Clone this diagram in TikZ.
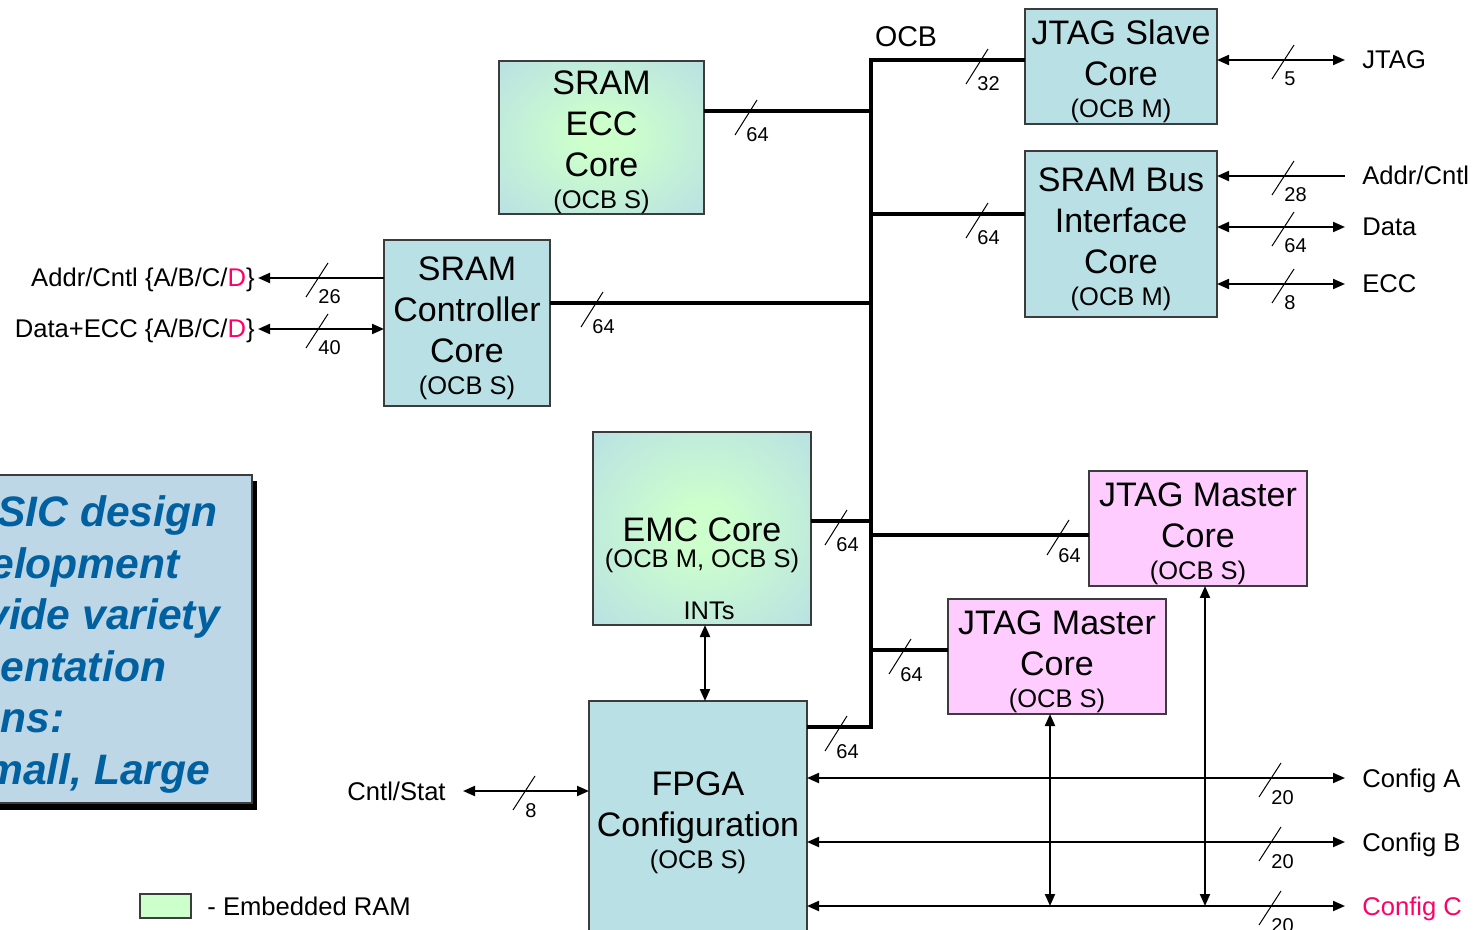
\documentclass[tikz,border=0pt]{standalone}
\usepackage{fontspec}
\setmainfont{Liberation Sans}
\usetikzlibrary{arrows.meta}

\definecolor{corecyan}{RGB}{185,224,228}
\definecolor{ramgreen}{RGB}{204,255,204}
\definecolor{jtagpink}{RGB}{255,204,255}
\definecolor{boxline}{RGB}{60,60,60}
\definecolor{notefill}{RGB}{190,215,230}
\definecolor{noteblue}{RGB}{0,96,160}
\definecolor{hotpink}{RGB}{255,0,102}

\pgfdeclareradialshading{ramglow}{\pgfpoint{0bp}{0bp}}{color(0bp)=(ramgreen); color(6bp)=(ramgreen); color(36bp)=(corecyan); color(50bp)=(corecyan)}

\newcommand{\bigf}{\fontsize{17}{20.5}\selectfont}
\newcommand{\smallf}{\fontsize{12.75}{15}\selectfont}
\newcommand{\lblf}{\fontsize{12.8}{15}\selectfont}
\newcommand{\wdf}{\fontsize{10}{12}\selectfont}
\newcommand{\topgap}[1][17pt]{\rule{0pt}{#1}}

% bus width mark on a thick bus line: crossing x, y, width
\newcommand{\bwmark}[3]{%
  \draw[line width=0.5pt] (#1-15,#2+24) -- (#1+7,#2-11);
  \node[font=\wdf, inner sep=0pt, anchor=base west] at (#1-4,#2+31) {#3};}
% same on a thin signal line
\newcommand{\swmark}[3]{%
  \draw[line width=0.5pt] (#1-12,#2+19) -- (#1+10,#2-15);
  \node[font=\wdf, inner sep=0pt, anchor=base west] at (#1,#2+26) {#3};}

\begin{document}
\begin{tikzpicture}[x=0.5pt,y=-0.5pt,
  core/.style={draw=boxline, line width=0.75pt, fill=corecyan, inner sep=0pt, outer sep=0pt, align=center, font=\bigf},
  ramcore/.style={core, shading=ramglow},
  jtagm/.style={core, fill=jtagpink},
  bus/.style={line width=2pt},
  sig/.style={line width=1pt, -{Triangle[length=6pt,width=5pt]}},
  biarr/.style={line width=1pt, {Triangle[length=6pt,width=5pt]}-{Triangle[length=6pt,width=5pt]}},
  iolbl/.style={font=\lblf, inner xsep=8.5pt, inner ysep=0pt, text height=9pt, text depth=0pt},
  notetxt/.style={font=\fontsize{21.3}{25}\selectfont\bfseries\itshape, text=noteblue, inner sep=0pt}]
  \useasboundingbox (0,0) rectangle (1484,930);

  % note box, cut off at the left
  \fill[black] (-195,481) rectangle (257,810);
  \draw[fill=notefill, draw=boxline, line width=0.75pt] (-200,475) rectangle (252,803);
  \foreach \ln/\lx [count=\i from 0] in {SIC design/-3, elopment/-10, vide variety/-15, entation/0, ns:/0, {mall, Large}/-15}
    \node[notetxt, anchor=base west] at (\lx,527+51.4*\i) {\ln};

  % cores
  \node[ramcore, minimum width=102.5pt, minimum height=76.5pt] (ecc) at (601.5,137.5) {\topgap SRAM\\ECC\\Core\\[-4.5pt]{\smallf (OCB S)}};
  \node[core, minimum width=96pt, minimum height=57.5pt] (jtags) at (1121,66.5) {\topgap JTAG Slave\\Core\\[-4.5pt]{\smallf (OCB M)}};
  \node[core, minimum width=96pt, minimum height=83pt] (sbi) at (1121,234) {\topgap SRAM Bus\\Interface\\Core\\[-4.5pt]{\smallf (OCB M)}};
  \node[core, minimum width=83pt, minimum height=83pt] (sctl) at (467,323) {\topgap SRAM\\Controller\\Core\\[-4.5pt]{\smallf (OCB S)}};
  \node[ramcore, minimum width=109pt, minimum height=96.5pt] (emc) at (702,528.5) {};
  \node[font=\bigf, align=center, inner sep=0pt] (emctxt) at (702,545.5) {EMC Core\\[-7.5pt]{\smallf (OCB M, OCB S)}};
  \node[font=\smallf, inner sep=0pt, anchor=base] (ints) at (709,619) {INTs};
  \node[jtagm, minimum width=109pt, minimum height=57.5pt] (jmA) at (1198,528.5) {\topgap JTAG Master\\Core\\[-4.5pt]{\smallf (OCB S)}};
  \node[jtagm, minimum width=109pt, minimum height=57.5pt] (jmB) at (1057,656.5) {\topgap JTAG Master\\Core\\[-4.5pt]{\smallf (OCB S)}};
  \node[core, minimum width=109pt, minimum height=119pt] (fpga) at (698,820) {\topgap[15pt]FPGA\\Configuration\\[-4.5pt]{\smallf (OCB S)}};

  % OCB bus
  \coordinate (ocbtop) at (871,60);
  \coordinate (ocbbot) at (871,727);
  \node[font=\fontsize{14.3}{17}\selectfont, inner sep=0pt, text height=10.2pt, text depth=0pt] (ocb) at (906,36) {OCB};
  \draw[bus] (ocbtop -| jtags.west) -- (ocbtop) -- (ocbbot) -- (ocbbot -| fpga.east);
  \coordinate (tapEcc) at (871,111);
  \coordinate (tapSbi) at (871,214);
  \coordinate (tapCtl) at (871,303);
  \coordinate (tapEmc) at (871,521);
  \coordinate (tapJmA) at (871,535);
  \coordinate (tapJmB) at (871,650);
  \draw[bus] (tapEcc -| ecc.east) -- (tapEcc);
  \draw[bus] (tapSbi) -- (tapSbi -| sbi.west);
  \draw[bus] (tapCtl -| sctl.east) -- (tapCtl);
  \draw[bus] (tapEmc -| emc.east) -- (tapEmc);
  \draw[bus] (tapJmA) -- (tapJmA -| jmA.west);
  \draw[bus] (tapJmB) -- (tapJmB -| jmB.west);

  % pins
  \node[iolbl, anchor=west] (jtagR) at (1345,60) {JTAG};
  \node[iolbl, anchor=west] (adrR) at (1345,176) {Addr/Cntl};
  \node[iolbl, anchor=west] (datR) at (1345,227) {Data};
  \node[iolbl, anchor=west] (eccR) at (1345,284) {ECC};
  \node[iolbl, anchor=east, inner xsep=1.5pt] (adrL) at (258,278) {Addr/Cntl \{A/B/C/\textcolor{hotpink}{D}\}};
  \node[iolbl, anchor=east, inner xsep=1.5pt] (datL) at (258,329) {Data+ECC \{A/B/C/\textcolor{hotpink}{D}\}};
  \node[iolbl, anchor=east] (csL) at (463,791) {Cntl/Stat};
  \node[iolbl, anchor=west] (cfgA) at (1345,778) {Config A};
  \node[iolbl, anchor=west] (cfgB) at (1345,842) {Config B};
  \node[iolbl, anchor=west, text=hotpink] (cfgC) at (1345,906) {Config C};

  \draw[biarr] (jtagR.west -| jtags.east) -- (jtagR.west);
  \draw[sig] (adrR.west) -- (adrR.west -| sbi.east);
  \draw[biarr] (datR.west -| sbi.east) -- (datR.west);
  \draw[biarr] (eccR.west -| sbi.east) -- (eccR.west);
  \draw[sig] (adrL.east -| sctl.west) -- (adrL.east);
  \draw[biarr] (datL.east) -- (datL.east -| sctl.west);
  \draw[biarr] ([xshift=1.5pt]emc.south) -- ([xshift=1.5pt]emc.south |- fpga.north);
  \draw[biarr] (csL.east) -- (csL.east -| fpga.west);
  \draw[biarr] (cfgA.west -| fpga.east) -- (cfgA.west);
  \draw[biarr] (cfgB.west -| fpga.east) -- (cfgB.west);
  \draw[biarr] (cfgC.west -| fpga.east) -- (cfgC.west);
  \draw[biarr] ([xshift=-3.5pt]jmB.south) -- ([xshift=-3.5pt]jmB.south |- cfgC.west);
  \draw[biarr] ([xshift=3.5pt]jmA.south) -- ([xshift=3.5pt]jmA.south |- cfgC.west);

  % bus widths
  \bwmark{750}{111}{64}
  \bwmark{981}{60}{32}
  \bwmark{981}{214}{64}
  \bwmark{596}{303}{64}
  \bwmark{840}{521}{64}
  \bwmark{1062}{531}{64}
  \bwmark{904}{650}{64}
  \bwmark{840}{727}{64}
  \swmark{1284}{60}{5}
  \swmark{1284}{176}{28}
  \swmark{1284}{227}{64}
  \swmark{1284}{284}{8}
  \swmark{318}{278}{26}
  \swmark{318}{329}{40}
  \swmark{525}{791}{8}
  \swmark{1271}{778}{20}
  \swmark{1271}{842}{20}
  \swmark{1271}{906}{20}

  % legend
  \node[draw=boxline, line width=0.75pt, fill=ramgreen, minimum width=25.5pt, minimum height=12pt, inner sep=0pt] (legram) at (165.5,906) {};
  \node[iolbl, anchor=west, inner xsep=0pt] (legtxt) at (207,906) {- Embedded RAM};
\end{tikzpicture}
\end{document}
